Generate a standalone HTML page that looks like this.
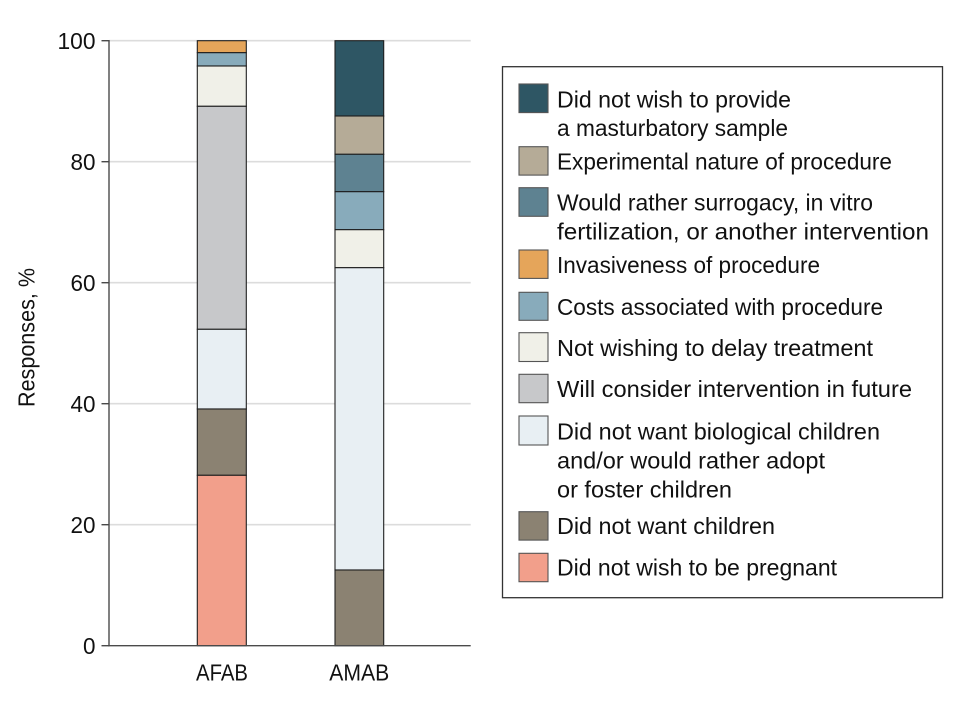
<!DOCTYPE html>
<html>
<head>
<meta charset="utf-8">
<style>
  html, body { margin: 0; padding: 0; background: #ffffff; }
  svg { display: block; }
  text { font-family: "Liberation Sans", "DejaVu Sans", sans-serif; fill: #111111; }
</style>
</head>
<body>
<svg width="957" height="711" viewBox="0 0 957 711" xmlns="http://www.w3.org/2000/svg">
  <rect x="0" y="0" width="957" height="711" fill="#ffffff"/>

  <!-- gridlines -->
  <g stroke="#dcdcdc" stroke-width="1.6">
    <line x1="109" y1="40.7" x2="470.7" y2="40.7"/>
    <line x1="109" y1="161.7" x2="470.7" y2="161.7"/>
    <line x1="109" y1="282.7" x2="470.7" y2="282.7"/>
    <line x1="109" y1="403.7" x2="470.7" y2="403.7"/>
    <line x1="109" y1="524.7" x2="470.7" y2="524.7"/>
  </g>

  <!-- AFAB bar -->
  <g stroke="#1f1f1f" stroke-width="1.1">
    <rect x="197.3" y="40.7" width="49" height="12" fill="#E5A55A"/>
    <rect x="197.3" y="52.7" width="49" height="13.3" fill="#88ABBB"/>
    <rect x="197.3" y="66" width="49" height="40.3" fill="#F0F0E8"/>
    <rect x="197.3" y="106.3" width="49" height="223" fill="#C7C8CA"/>
    <rect x="197.3" y="329.3" width="49" height="79.7" fill="#E8EFF3"/>
    <rect x="197.3" y="409" width="49" height="66.3" fill="#8B8272"/>
    <rect x="197.3" y="475.3" width="49" height="170.4" fill="#F29F8B"/>
  </g>

  <!-- AMAB bar -->
  <g stroke="#1f1f1f" stroke-width="1.1">
    <rect x="335" y="40.7" width="48.7" height="75.3" fill="#2E5664"/>
    <rect x="335" y="116" width="48.7" height="38.3" fill="#B5AB97"/>
    <rect x="335" y="154.3" width="48.7" height="37.4" fill="#5E8291"/>
    <rect x="335" y="191.7" width="48.7" height="38" fill="#88ABBB"/>
    <rect x="335" y="229.7" width="48.7" height="38" fill="#F0F0E8"/>
    <rect x="335" y="267.7" width="48.7" height="302.3" fill="#E8EFF3"/>
    <rect x="335" y="570" width="48.7" height="75.7" fill="#8B8272"/>
  </g>

  <!-- axes -->
  <g stroke="#4a4a4a" stroke-width="1.4">
    <line x1="109" y1="40" x2="109" y2="646.4"/>
    <line x1="108.3" y1="645.7" x2="470.7" y2="645.7"/>
    <line x1="101.5" y1="40.7" x2="109" y2="40.7"/>
    <line x1="101.5" y1="161.7" x2="109" y2="161.7"/>
    <line x1="101.5" y1="282.7" x2="109" y2="282.7"/>
    <line x1="101.5" y1="403.7" x2="109" y2="403.7"/>
    <line x1="101.5" y1="524.7" x2="109" y2="524.7"/>
    <line x1="101.5" y1="645.7" x2="109" y2="645.7"/>
  </g>

  <!-- y tick labels -->
  <g font-size="23" text-anchor="end">
    <text x="95.5" y="49" textLength="38" lengthAdjust="spacingAndGlyphs">100</text>
    <text x="95.5" y="170" textLength="25" lengthAdjust="spacingAndGlyphs">80</text>
    <text x="95.5" y="291" textLength="25" lengthAdjust="spacingAndGlyphs">60</text>
    <text x="95.5" y="412" textLength="25" lengthAdjust="spacingAndGlyphs">40</text>
    <text x="95.5" y="533" textLength="25" lengthAdjust="spacingAndGlyphs">20</text>
    <text x="95.5" y="654" textLength="12.5" lengthAdjust="spacingAndGlyphs">0</text>
  </g>

  <!-- y axis title -->
  <text font-size="23" text-anchor="middle" transform="translate(34.5,337.5) rotate(-90)" textLength="139" lengthAdjust="spacingAndGlyphs">Responses, %</text>

  <!-- x labels -->
  <g font-size="23" text-anchor="middle">
    <text x="222" y="680.7" textLength="52" lengthAdjust="spacingAndGlyphs">AFAB</text>
    <text x="359.3" y="680.7" textLength="60" lengthAdjust="spacingAndGlyphs">AMAB</text>
  </g>

  <!-- legend box -->
  <rect x="502.5" y="66.7" width="440" height="531" fill="#ffffff" stroke="#333333" stroke-width="1.3"/>

  <!-- legend swatches -->
  <g stroke="#555555" stroke-width="1.1">
    <rect x="519" y="84" width="29" height="28.6" fill="#2E5664"/>
    <rect x="519" y="146.7" width="29" height="28.4" fill="#B5AB97"/>
    <rect x="519" y="187.7" width="29" height="28.6" fill="#5E8291"/>
    <rect x="519" y="250" width="29" height="28.4" fill="#E5A55A"/>
    <rect x="519" y="292.3" width="29" height="28" fill="#88ABBB"/>
    <rect x="519" y="332.7" width="29" height="28.8" fill="#F0F0E8"/>
    <rect x="519" y="374.3" width="29" height="28.4" fill="#C7C8CA"/>
    <rect x="519" y="416" width="29" height="29" fill="#E8EFF3"/>
    <rect x="519" y="511.7" width="29" height="28.4" fill="#8B8272"/>
    <rect x="519" y="553.3" width="29" height="28.4" fill="#F29F8B"/>
  </g>

  <!-- legend text -->
  <g font-size="23">
    <text x="557" y="107.5" textLength="234" lengthAdjust="spacingAndGlyphs">Did not wish to provide</text>
    <text x="557" y="136" textLength="231" lengthAdjust="spacingAndGlyphs">a masturbatory sample</text>
    <text x="557" y="169.5" textLength="335" lengthAdjust="spacingAndGlyphs">Experimental nature of procedure</text>
    <text x="557" y="210.5" textLength="316" lengthAdjust="spacingAndGlyphs">Would rather surrogacy, in vitro</text>
    <text x="557" y="239.5" textLength="372" lengthAdjust="spacingAndGlyphs">fertilization, or another intervention</text>
    <text x="557" y="273" textLength="263" lengthAdjust="spacingAndGlyphs">Invasiveness of procedure</text>
    <text x="557" y="315" textLength="326" lengthAdjust="spacingAndGlyphs">Costs associated with procedure</text>
    <text x="557" y="356" textLength="316" lengthAdjust="spacingAndGlyphs">Not wishing to delay treatment</text>
    <text x="557" y="397" textLength="355" lengthAdjust="spacingAndGlyphs">Will consider intervention in future</text>
    <text x="557" y="439.5" textLength="323" lengthAdjust="spacingAndGlyphs">Did not want biological children</text>
    <text x="557" y="468.5" textLength="268" lengthAdjust="spacingAndGlyphs">and/or would rather adopt</text>
    <text x="557" y="497.5" textLength="175" lengthAdjust="spacingAndGlyphs">or foster children</text>
    <text x="557" y="534" textLength="218" lengthAdjust="spacingAndGlyphs">Did not want children</text>
    <text x="557" y="575.5" textLength="280" lengthAdjust="spacingAndGlyphs">Did not wish to be pregnant</text>
  </g>
</svg>
</body>
</html>
